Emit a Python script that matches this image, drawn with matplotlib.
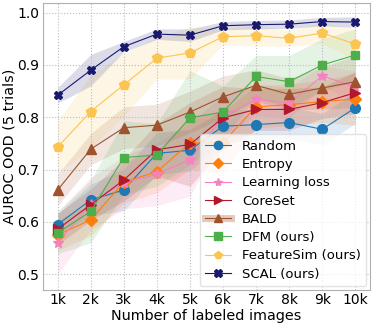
import matplotlib
matplotlib.use("Agg")
import matplotlib.pyplot as plt
import numpy as np

# x axis: number of labeled images
labels = ["1k", "2k", "3k", "4k", "5k", "6k", "7k", "8k", "9k", "10k"]
x = np.arange(1, 11)

# mean AUROC OOD per method
random_m = [0.595, 0.642, 0.661, 0.731, 0.737, 0.783, 0.786, 0.790, 0.777, 0.818]
entropy_m = [0.575, 0.604, 0.676, 0.696, 0.751, 0.752, 0.820, 0.824, 0.830, 0.835]
lloss_m = [0.560, 0.635, 0.675, 0.691, 0.719, 0.802, 0.834, 0.827, 0.879, 0.858]
coreset_m = [0.586, 0.633, 0.680, 0.738, 0.748, 0.799, 0.815, 0.815, 0.828, 0.847]
bald_m = [0.661, 0.739, 0.780, 0.785, 0.810, 0.839, 0.861, 0.844, 0.856, 0.868]
dfm_m = [0.579, 0.620, 0.723, 0.728, 0.799, 0.810, 0.878, 0.868, 0.900, 0.919]
fsim_m = [0.743, 0.811, 0.862, 0.913, 0.923, 0.954, 0.956, 0.951, 0.961, 0.940]
scal_m = [0.842, 0.890, 0.935, 0.959, 0.957, 0.975, 0.977, 0.978, 0.983, 0.982]

# std over 5 trials
random_s = [0.02, 0.03, 0.04, 0.04, 0.04, 0.03, 0.03, 0.03, 0.03, 0.03]
entropy_s = [0.03, 0.03, 0.04, 0.04, 0.05, 0.06, 0.04, 0.04, 0.04, 0.05]
lloss_s = [0.06, 0.05, 0.05, 0.06, 0.07, 0.04, 0.03, 0.03, 0.02, 0.03]
coreset_s = [0.03, 0.03, 0.04, 0.05, 0.08, 0.06, 0.04, 0.04, 0.03, 0.04]
bald_s = [0.03, 0.03, 0.04, 0.04, 0.04, 0.04, 0.03, 0.03, 0.04, 0.05]
dfm_s = [0.04, 0.06, 0.07, 0.06, 0.09, 0.05, 0.04, 0.05, 0.05, 0.05]
fsim_s = [0.05, 0.07, 0.06, 0.04, 0.05, 0.015, 0.02, 0.015, 0.02, 0.03]
scal_s = [0.015, 0.03, 0.01, 0.01, 0.012, 0.008, 0.008, 0.008, 0.008, 0.01]

series = [
    ("Random", random_m, random_s, "#1f77b4", "o", 7),
    ("Entropy", entropy_m, entropy_s, "#ff7f0e", "D", 6),
    ("Learning loss", lloss_m, lloss_s, "#f781bf", "*", 7),
    ("CoreSet", coreset_m, coreset_s, "#b2182b", ">", 7),
    ("BALD", bald_m, bald_s, "#a0522d", "^", 7),
    ("DFM (ours)", dfm_m, dfm_s, "#4daf4a", "s", 6),
    ("FeatureSim (ours)", fsim_m, fsim_s, "#fcc450", "p", 7),
    ("SCAL (ours)", scal_m, scal_s, "#191970", "X", 6),
]

fig = plt.figure(figsize=(3.75, 3.25), dpi=100)
ax = fig.add_axes([0.114, 0.108, 0.873, 0.882])

handles = []
names = []
for name, m, s, c, mk, ms in series:
    m = np.array(m)
    s = np.array(s)
    ax.fill_between(x, m - s, m + s, color=c, alpha=0.15, linewidth=0)
    ln, = ax.plot(x, m, color=c, marker=mk, markersize=ms, linewidth=0.8)
    if name == "BALD":
        # the legend entry of BALD shows a thick faded band behind the line
        band, = ax.plot([], [], color=c, alpha=0.3, linewidth=5)
        handles.append((band, ln))
    else:
        handles.append(ln)
    names.append(name)

ax.set_xticks(x)
ax.set_xticklabels(labels, fontsize=10)
ax.set_yticks([0.5, 0.6, 0.7, 0.8, 0.9, 1.0])
ax.set_yticklabels(["0.5", "0.6", "0.7", "0.8", "0.9", "1.0"], fontsize=10)
ax.set_xlim(0.55, 10.45)
ax.set_ylim(0.47, 1.018)
ax.grid(True, linestyle=":", color="#bbbbbb", linewidth=0.8)
ax.tick_params(length=0, pad=2.5)
for sp in ax.spines.values():
    sp.set_color("#b0b0b0")
ax.set_xlabel("Number of labeled images", fontsize=10.4, labelpad=1)
ax.set_ylabel("AUROC OOD (5 trials)", fontsize=10.4, labelpad=0.5)

legend = ax.legend(handles, names, loc="lower right", fontsize=9.5, handlelength=2.0,
                   labelspacing=0.4, borderaxespad=0.3, framealpha=0.8, fancybox=True,
                   markerscale=0.85)
legend.get_frame().set_edgecolor("#dddddd")

fig.savefig("out.png", dpi=100)
